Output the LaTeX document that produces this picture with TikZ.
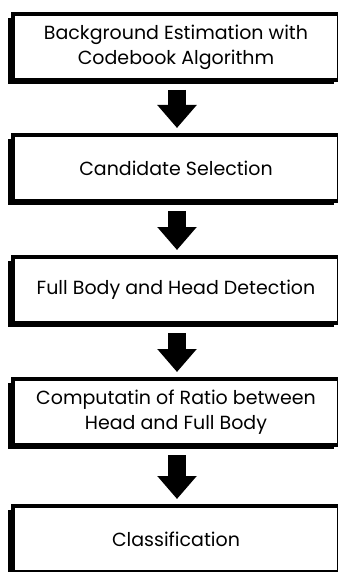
\documentclass[tikz,border=0pt]{standalone}
\usepackage{fontspec}
\setmainfont{Poppins}
\usetikzlibrary{arrows.meta,shadows}

\tikzset{
  stage/.style={draw, line width=4pt, fill=white, minimum width=326pt,
    minimum height=66pt, inner sep=0pt, align=center,
    font=\fontsize{19}{25}\selectfont,
    drop shadow={shadow xshift=-5pt, shadow yshift=-4pt, fill=black, opacity=1}},
  blockarrow/.style={line width=18pt, -{Triangle[width=38pt,length=23pt]},
    shorten <=8pt, shorten >=5pt}
}

\begin{document}
\begin{tikzpicture}[x=1pt,y=1pt]
\useasboundingbox (0,0) rectangle (337,-572);

\node[stage] (estim) at (176,-47) {Background Estimation with\\Codebook Algorithm};
\node[stage] (select) at (176,-168) {Candidate Selection};
\node[stage] (detect) at (176,-290) {Full Body and Head Detection};
\node[stage] (ratio) at (176,-412) {Computatin of Ratio between\\Head and Full Body};
\node[stage] (classif) at (176,-539) {Classification};

\draw[blockarrow] ([xshift=1pt]estim.south) -- ([xshift=1pt]select.north);
\draw[blockarrow] ([xshift=1pt]select.south) -- ([xshift=1pt]detect.north);
\draw[blockarrow] ([xshift=1pt]detect.south) -- ([xshift=1pt]ratio.north);
\draw[blockarrow] ([xshift=1pt]ratio.south) -- ([xshift=1pt]classif.north);

\end{tikzpicture}
\end{document}
